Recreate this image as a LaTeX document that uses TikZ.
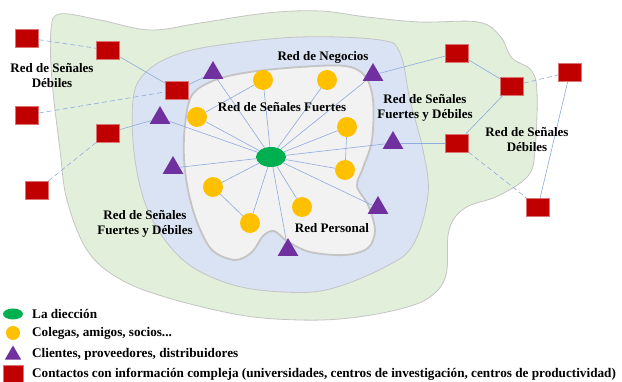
\documentclass[tikz,border=0pt]{standalone}
\usepackage{fontspec}
\setmainfont{Liberation Serif}
\usepackage{tikz}
\usetikzlibrary{shapes.geometric}
\definecolor{outergreen}{HTML}{E2EFDA}
\definecolor{midblue}{HTML}{DAE3F3}
\definecolor{innergrey}{HTML}{F2F2F2}
\definecolor{rimgrey}{HTML}{C4C4C4}
\definecolor{dirgreen}{HTML}{00B050}
\definecolor{peeryellow}{HTML}{FFC000}
\definecolor{clientpurple}{HTML}{7030A0}
\definecolor{contactred}{HTML}{C00000}
\definecolor{tieblue}{HTML}{8FAADC}
\tikzstyle{dir} = [ellipse, fill=dirgreen, minimum width=30pt, minimum height=20pt, inner sep=0pt]
\tikzstyle{peer} = [circle, fill=peeryellow, minimum size=20pt, inner sep=0pt]
\tikzstyle{client} = [regular polygon, regular polygon sides=3, fill=clientpurple, minimum size=24pt, inner sep=0pt]
\tikzstyle{contact} = [rectangle, fill=contactred, draw=contactred!55!white, line width=0.4pt, minimum width=23pt, minimum height=18pt, inner sep=0pt]
\tikzstyle{netlabel} = [font=\fontsize{13}{15}\selectfont\bfseries, align=center, inner sep=0pt]
\tikzstyle{legendtext} = [font=\fontsize{13.2}{15}\selectfont\bfseries, anchor=west, inner sep=0pt]
\tikzstyle{tie} = [color=tieblue, line width=0.6pt]
\tikzstyle{weaktie} = [tie, dash pattern=on 5pt off 3pt]

\begin{document}
\begin{tikzpicture}[x=1pt, y=-1pt]
    \useasboundingbox (0,0) rectangle (622,382);

    % network areas
    \draw[fill=outergreen, draw=rimgrey, line width=0.8pt] plot[smooth cycle, tension=0.6] coordinates {
        (51,30) (60,14) (100,20) (150,30) (200,23) (267,13) (320,11) (367,17)
        (420,22) (478,22) (500,36) (512,58) (531,70) (537,92) (535,150) (528,176)
        (498,196) (465,208) (449,230) (446,275) (430,297) (400,309) (350,318)
        (300,320) (240,315) (165,297) (118,278) (87,250) (67,200) (60,150) (52,80)};
    \draw[fill=midblue, draw=rimgrey, line width=0.8pt] plot[smooth cycle, tension=0.6] coordinates {
        (133,100) (145,73) (175,55) (220,45) (300,37) (380,40) (400,53) (410,100)
        (423,150) (428,195) (413,245) (385,267) (330,289) (283,292) (230,284)
        (183,260) (150,215) (135,160)};
    \draw[fill=innergrey, draw=rimgrey, line width=1.8pt] plot[smooth cycle, tension=0.55] coordinates {
        (185,125) (192,95) (215,80) (250,72) (300,67) (345,66) (365,76) (373,100)
        (372,140) (363,168) (357,186) (368,205) (375,230) (368,248) (345,255)
        (310,252) (287,241) (274,231) (263,236) (252,252) (235,260) (212,250)
        (197,222) (188,190) (184,158)};

    % la direccion y su red personal
    \node (boss) [dir] at (271,157) {};
    \node (peerA) [peer] at (263,80) {};
    \node (peerB) [peer] at (327,80) {};
    \node (peerC) [peer] at (197,117) {};
    \node (peerD) [peer] at (347,127) {};
    \node (peerE) [peer] at (345,170) {};
    \node (peerF) [peer] at (213,187) {};
    \node (peerG) [peer] at (250,223) {};
    \node (peerH) [peer] at (302,207) {};

    % red de negocios
    \node (cliA) [client] at (213,73) {};
    \node (cliB) [client] at (373,75) {};
    \node (cliC) [client] at (160,118) {};
    \node (cliD) [client] at (173,168) {};
    \node (cliE) [client] at (393,143) {};
    \node (cliF) [client] at (378,208) {};
    \node (cliG) [client] at (288,250) {};

    % contactos externos
    \node (conA) [contact] at (27,38) {};
    \node (conB) [contact] at (108,50) {};
    \node (conC) [contact] at (177,90) {};
    \node (conD) [contact] at (27,115) {};
    \node (conE) [contact] at (108,133) {};
    \node (conF) [contact] at (37,190) {};
    \node (conG) [contact] at (457,53) {};
    \node (conH) [contact] at (512,86) {};
    \node (conI) [contact] at (570,72) {};
    \node (conJ) [contact] at (457,143) {};
    \node (conK) [contact] at (538,207) {};

    \path[tie] (boss) edge (peerA) (boss) edge (peerB) (boss) edge (peerC)
               (boss) edge (peerD) (boss) edge (peerE) (boss) edge (peerF)
               (boss) edge (peerG) (boss) edge (peerH)
               (boss) edge (cliA) (boss) edge (cliB) (boss) edge (cliC)
               (boss) edge (cliD) (boss) edge (cliE) (boss) edge (cliF)
               (boss) edge (cliG)
               (peerC) edge (peerA) (peerD) edge (peerE) (peerF) edge (peerG)
               (conB) edge (conC) (conC) edge (cliA) (conE) edge (cliC)
               (cliB) edge (conG) (conG) edge (conH) (conH) edge (conJ)
               (cliE) edge (conJ) (conI) edge (conK);
    \path[weaktie] (conA) edge (conB) (conD) edge (conC) (conF) edge (conE)
                   (conH) edge (conI) (conJ) edge (conK);

    \node (lblWeakL) [netlabel] at (52,76) {Red de Señales\\Débiles};
    \node (lblBiz) [netlabel] at (323,57) {Red de Negocios};
    \node (lblStrong) [netlabel] at (282,107) {Red de Señales Fuertes};
    \node (lblMixR) [netlabel] at (425,108) {Red de Señales\\Fuertes y Débiles};
    \node (lblWeakR) [netlabel] at (527,140) {Red de Señales\\Débiles};
    \node (lblMixL) [netlabel] at (145,224) {Red de Señales\\Fuertes y Débiles};
    \node (lblPers) [netlabel] at (332,228) {Red Personal};

    % leyenda
    \node (keyDir) [dir, minimum width=20pt, minimum height=11pt] at (13,314) {};
    \node (keyPeer) [peer, minimum size=14pt] at (13,333) {};
    \node (keyCli) [client, minimum size=19pt] at (13,355) {};
    \node (keyCon) [contact, minimum width=20pt, minimum height=17pt] at (13,374) {};
    \node (txtDir) [legendtext] at (32,314) {La diección};
    \node (txtPeer) [legendtext] at (32,333) {Colegas, amigos, socios...};
    \node (txtCli) [legendtext] at (32,354) {Clientes, proveedores, distribuidores};
    \node (txtCon) [legendtext] at (32,374) {Contactos con información compleja (universidades, centros de investigación, centros de productividad)};
\end{tikzpicture}
\end{document}
